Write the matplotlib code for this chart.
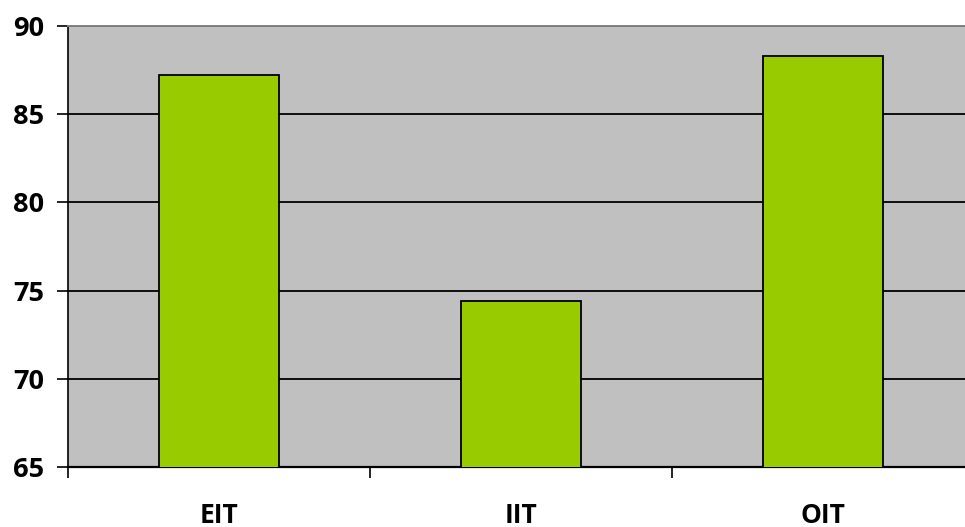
import matplotlib.pyplot as plt
import numpy as np

plt.rcParams['font.family'] = ['Open Sans', 'DejaVu Sans']

categories = ['EIT', 'IIT', 'OIT']
scores = [87.25, 74.42, 88.28]
y_ticks = [65, 70, 75, 80, 85, 90]

fig = plt.figure(figsize=(9.65, 5.27), dpi=100)
# plot area runs past the right edge of the picture, as in the reference
ax = fig.add_axes([68 / 965, 1 - 467 / 527, 906 / 965, 441 / 527])
ax.set_facecolor('#C0C0C0')

x = np.arange(len(categories))
ax.bar(x, scores, width=0.4, color='#99CC00', edgecolor='black', linewidth=1.3, zorder=3)

ax.set_xlim(-0.5, len(categories) - 0.5)
ax.set_ylim(65, 90)
ax.set_yticks(y_ticks)
ax.yaxis.grid(True, color='black', linewidth=1.3, zorder=1)
ax.set_axisbelow(True)

ax.set_xticks(np.arange(len(categories) + 1) - 0.5)
ax.set_xticklabels([])
ax.set_xticks(x, minor=True)
ax.set_xticklabels(categories, minor=True, fontsize=19, fontweight='bold')
ax.tick_params(axis='x', which='minor', length=0, pad=25)
ax.tick_params(axis='x', which='major', length=8, width=1.2, direction='out')
ax.tick_params(axis='y', length=8, width=1.2, pad=9, labelsize=19.5)
for lab in ax.get_yticklabels():
    lab.set_fontweight('bold')

ax.spines['left'].set_linewidth(1.2)
ax.spines['bottom'].set_linewidth(1.6)
ax.spines['top'].set_color('#808080')
ax.spines['top'].set_linewidth(1.4)
ax.spines['right'].set_visible(False)

fig.savefig('out.png', dpi=100)
